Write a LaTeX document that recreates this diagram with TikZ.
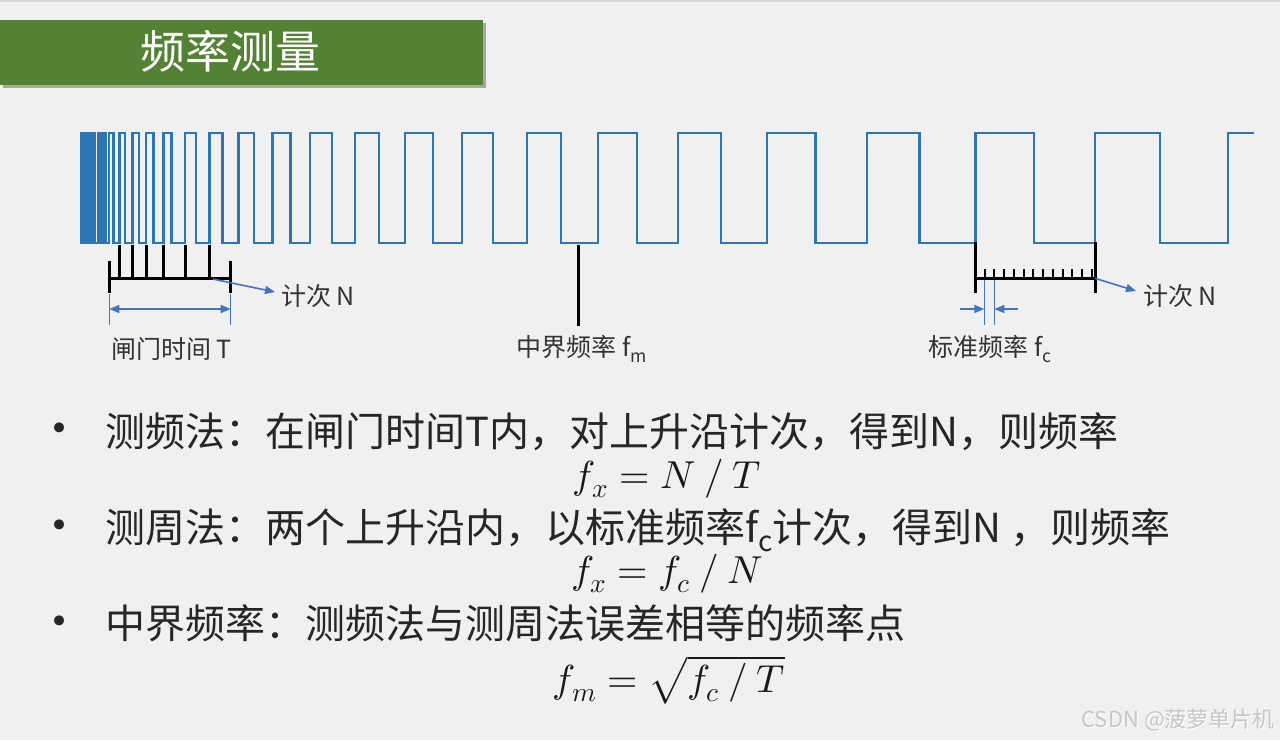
\documentclass[tikz,border=0pt]{standalone}
\usepackage{fontspec}
\usepackage{unicode-math}
\setmainfont{Noto Sans CJK SC}
\newfontfamily\cjk{Noto Sans CJK SC}
\newfontfamily\dejavu{DejaVu Sans}
\usetikzlibrary{arrows.meta}
\definecolor{bgc}{HTML}{F0F0F0}
\definecolor{tgreen}{HTML}{548235}
\definecolor{wavec}{HTML}{2E75B6}
\definecolor{annoc}{HTML}{4472C4}
\definecolor{wmark}{HTML}{C6C6C6}
\tikzset{
  wavestyle/.style={wavec, line width=2.6pt, line join=miter},
  blackline/.style={black, line width=3pt},
  thintick/.style={black, line width=2pt},
  annoline/.style={annoc, line width=1.4pt},
  annoarrow/.style={annoc, line width=1.6pt, -{Triangle[length=10pt,width=8pt]}},
  lbl/.style={inner sep=0pt, font=\cjk\fontsize{25}{30}\selectfont, text=black!80},
  bodytext/.style={inner sep=0pt, anchor=base west, font=\cjk\fontsize{40}{48}\selectfont, text=black!85},
  formula/.style={inner sep=0pt, anchor=base, font=\fontsize{39}{46}\selectfont, text=black!90},
  bulletdot/.style={inner sep=0pt, anchor=base, font=\dejavu\fontsize{34}{40}\selectfont, text=black!85}
}
\begin{document}
\begin{tikzpicture}[x=1pt,y=-1pt]
\useasboundingbox (0,0) rectangle (1280,740);
\fill[bgc] (0,0) rectangle (1280,740);
\fill[black!15] (0,0) rectangle (1280,1.5);
% title bar
\fill[black!35] (3,23) rectangle (485.7,88);
\fill[tgreen] (0,20) rectangle (482.7,85);
\node[inner sep=0pt, text=white, font=\cjk\fontsize{45}{50}\selectfont] (title) at (230,51) {频率测量};
% waveform
\fill[wavec] (80,131.7) rectangle (96,244.3);
\draw[wavestyle] (96,243)
  \foreach \r/\f in {98/100.7, 102.7/105.3, 109/113.7, 119.3/125, 132.7/139, 146/153.3, 163.3/171.7, 185/196, 209.3/222.7, 238.3/254, 272.3/290.7, 310/332, 355/379, 405/433, 462/493, 527/561, 598/637, 678/721, 767/815.7, 867/919.3, 975.7/1034, 1095/1160} { -- (\r,243) -- (\r,133) -- (\f,133) -- (\f,243) }
  -- (1228,243) -- (1228,133) -- (1254,133);
% left gate annotation
\foreach \t in {119.3, 132.7, 146, 163.3, 185, 209.3} { \draw[blackline] (\t,244.5) -- (\t,278); }
\draw[blackline] (109.3,278) -- (230.7,278);
\draw[blackline] (109.3,260.7) -- (109.3,293.3);
\draw[blackline] (230.7,260.7) -- (230.7,293.3);
\coordinate (gl) at (109.3,309);
\coordinate (gr) at (230.7,309);
\draw[annoline] (109.3,294) -- (109.3,325);
\draw[annoline] (230.7,294) -- (230.7,325);
\draw[annoc, line width=1.4pt, {Triangle[length=10pt,width=8pt]}-{Triangle[length=10pt,width=8pt]}] (gl) -- (gr);
\coordinate (lbar) at (212.7,279);
\coordinate (ltip) at (275,292);
\draw[annoarrow] (lbar) -- (ltip);
\node[lbl, anchor=west] (lcnt) at (281,296) {计次 N};
\node[lbl] (gate) at (171.5,349) {闸门时间 T};
% middle
\draw[blackline] (578,244.5) -- (578,326);
\node[lbl] (mid) at (582,349) {中界频率 f\textsubscript{m}};
% right annotation
\draw[blackline] (975.7,241.7) -- (975.7,293.3);
\draw[blackline] (1095,241.7) -- (1095,293.3);
\draw[blackline] (975.7,278.3) -- (1095,278.3);
\foreach \k in {0,...,11} { \draw[thintick] (984.5+9.75*\k,269.3) -- (984.5+9.75*\k,278.3); }
\draw[annoline] (984.3,280) -- (984.3,325);
\draw[annoline] (994.3,280) -- (994.3,325);
\coordinate (al) at (960,309);
\coordinate (alt) at (984.3,309);
\coordinate (ar) at (1018,309);
\coordinate (art) at (994.3,309);
\draw[annoarrow] (al) -- (alt);
\draw[annoarrow] (ar) -- (art);
\coordinate (rbar) at (1095,278.3);
\coordinate (rtip) at (1136,291);
\draw[annoarrow] (rbar) -- (rtip);
\node[lbl, anchor=west] (rcnt) at (1143,296) {计次 N};
\node[lbl] (std) at (990,349) {标准频率 f\textsubscript{c}};
% bullets
\node[bulletdot] (b1) at (60,440) {•};
\node[bulletdot] (b2) at (60,537) {•};
\node[bulletdot] (b3) at (60,633) {•};
\node[bodytext] (t1) at (105,446) {测频法：在闸门时间T内，对上升沿计次，得到N，则频率};
\node[bodytext] (t2) at (105,542) {测周法：两个上升沿内，以标准频率f\textsubscript{c}计次，得到N ，则频率};
\node[bodytext] (t3) at (105,638) {中界频率：测频法与测周法误差相等的频率点};
\node[formula] (f1) at (667,488) {$f_x = N \mathbin{/} T$};
\node[formula] (f2) at (667,583) {$f_x = f_c \mathbin{/} N$};
\node[formula] (f3) at (669,692) {$f_m = \sqrt{f_c \mathbin{/} T}$};
% watermark
\node[inner sep=0pt, anchor=east, text=white, font=\cjk\fontsize{22}{26}\selectfont] at (1276,721) {CSDN @菠萝单片机};
\node[inner sep=0pt, anchor=east, text=wmark, font=\cjk\fontsize{22}{26}\selectfont] (wm) at (1275,720) {CSDN @菠萝单片机};
\end{tikzpicture}
\end{document}
